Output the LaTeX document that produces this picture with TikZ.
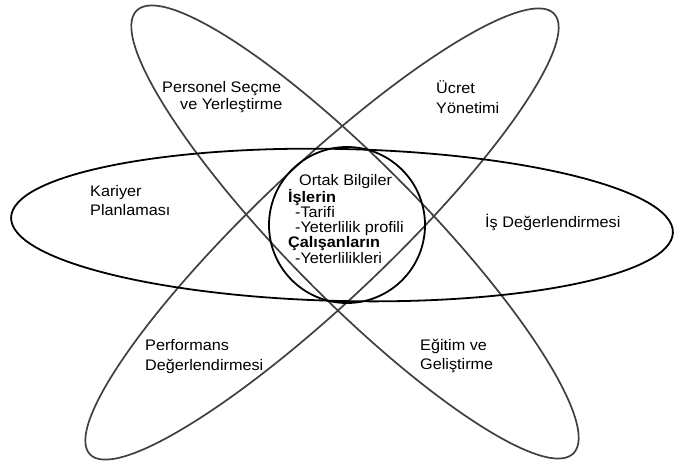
\documentclass[tikz,border=0pt]{standalone}
\usepackage{fontspec}
\setmainfont{Liberation Sans}[FakeStretch=1.06]
\begin{document}
\begin{tikzpicture}[x=1pt,y=-1pt,
  orbit/.style={draw=black!75, line width=1.7pt},
  ring/.style={draw=black, line width=1.8pt},
  lbl/.style={inner sep=0pt, anchor=base west, font=\fontsize{15.3}{17}\selectfont},
  clbl/.style={inner sep=0pt, anchor=base west, font=\fontsize{15.3}{17}\selectfont}]
\useasboundingbox[fill=white] (0,0) rectangle (674,469);
% orbits
\draw[orbit, rotate around={-45.4:(355,232)}] (355,232) ellipse [x radius=311pt, y radius=68pt];
\draw[orbit, rotate around={43.5:(322,234)}] (322,234) ellipse [x radius=320pt, y radius=67pt];
\draw[ring, rotate around={-1.3:(342,225)}] (342,225) ellipse [x radius=331pt, y radius=76pt];
\draw[ring] (347,225) circle [radius=78pt];
% labels
\node[lbl] (ps1) at (162,92) {Personel Seçme};
\node[lbl] (ps2) at (180,109) {ve Yerleştirme};
\node[lbl] (uc1) at (436,93) {Ücret};
\node[lbl] (uc2) at (436,113) {Yönetimi};
\node[lbl] (ka1) at (90,196) {Kariyer};
\node[lbl] (ka2) at (90,215) {Planlaması};
\node[lbl] (is) at (485,227) {İş Değerlendirmesi};
\node[lbl] (pf1) at (145,350) {Performans};
\node[lbl] (pf2) at (145,370) {Değerlendirmesi};
\node[lbl] (eg1) at (420,350) {Eğitim ve};
\node[lbl] (eg2) at (420,369) {Geliştirme};
% centre
\node[clbl] (c1) at (299,185) {Ortak Bilgiler};
\node[clbl] (c2) at (288,202) {\bfseries İşlerin};
\node[clbl] (c3) at (295,217) {-Tarifi};
\node[clbl] (c4) at (295,232) {-Yeterlilik profili};
\node[clbl] (c5) at (288,247) {\bfseries Çalışanların};
\node[clbl] (c6) at (295,263) {-Yeterlilikleri};
\end{tikzpicture}
\end{document}
